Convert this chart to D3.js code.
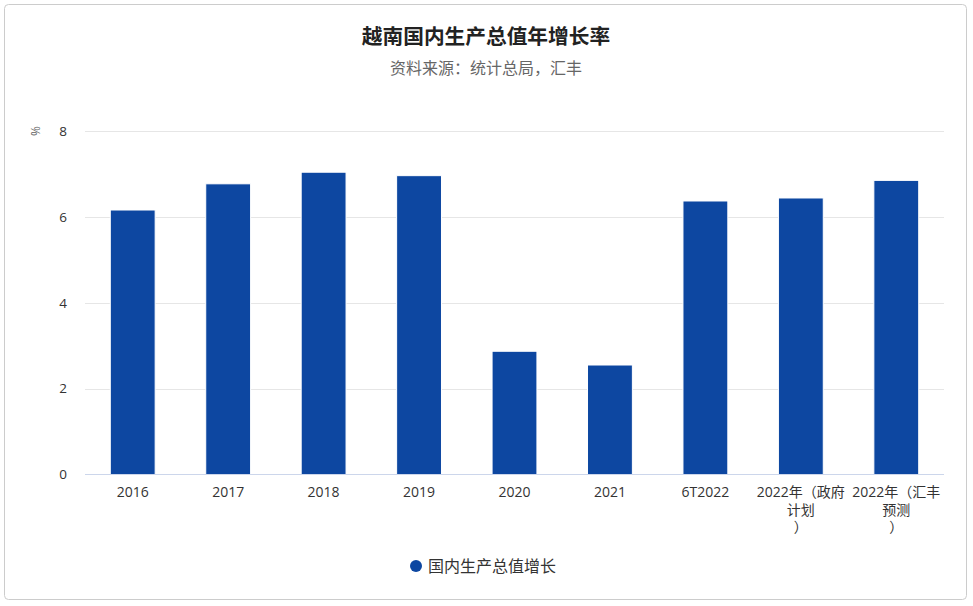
<!DOCTYPE html>
<html><head><meta charset="utf-8">
<script src="https://cdn.jsdelivr.net/npm/d3@7"></script>
<style>
html,body{margin:0;padding:0;background:#fff;}
svg{display:block;font-family:"Open Sans","Noto Sans CJK SC",sans-serif;}
</style></head>
<body>
<svg id="c" width="973" height="606"></svg>
<script>
const categories = ["2016","2017","2018","2019","2020","2021","6T2022","2022年（政府计划）","2022年（汇丰预测）"];
const labelLines = [["2016"],["2017"],["2018"],["2019"],["2020"],["2021"],["6T2022"],["2022年（政府","计划","）"],["2022年（汇丰","预测","）"]];
const growth = [6.16, 6.77, 7.04, 6.96, 2.87, 2.55, 6.37, 6.44, 6.85];
const yTicks = [0, 2, 4, 6, 8];
const seriesName = "国内生产总值增长";
const titleText = "越南国内生产总值年增长率";
const subtitleText = "资料来源：统计总局，汇丰";

const svg = d3.select("#c");
svg.append("rect").attr("x",4.5).attr("y",4.5).attr("width",962).attr("height",595)
  .attr("rx",4).attr("fill","#fff").attr("stroke","#cccccc");

const m = {left:85, right:944, top:131, bottom:474.5};
const x = d3.scaleBand().domain(categories).range([m.left, m.right]).paddingInner(0.53).paddingOuter(0.265);
const y = d3.scaleLinear().domain([0,8]).range([m.bottom, m.top]);

svg.append("text").attr("x",486).attr("y",44).attr("text-anchor","middle")
  .attr("font-size",20.7).attr("font-weight","bold").attr("fill","#222").text(titleText);
svg.append("text").attr("x",486).attr("y",74).attr("text-anchor","middle")
  .attr("font-size",16).attr("fill","#666").text(subtitleText);

// grid
svg.append("g").selectAll("line").data(yTicks.filter(d=>d>0)).join("line")
  .attr("x1",m.left).attr("x2",m.right)
  .attr("y1",d=>Math.round(y(d))+0.5).attr("y2",d=>Math.round(y(d))+0.5)
  .attr("stroke","#e6e6e6");

// y axis labels
const yAxis = d3.axisLeft(y).tickValues(yTicks).tickSize(0).tickPadding(0);
const ya = svg.append("g").attr("transform",`translate(${m.left-18},0)`).call(yAxis);
ya.select(".domain").remove();
ya.selectAll("text").attr("font-size",13.5).attr("fill","#333").attr("font-family","Open Sans, sans-serif");

svg.append("text").attr("transform",`translate(40,${m.top}) rotate(-90)`)
  .attr("text-anchor","middle").attr("font-size",12).attr("fill","#666").text("%");

// bars
svg.selectAll("rect.bar").data(growth).join("rect")
  .attr("x",(d,i)=>x(categories[i])).attr("width",x.bandwidth())
  .attr("y",d=>y(d)).attr("height",d=>y(0)-y(d))
  .attr("fill","#0d47a1").attr("stroke","#ffffff").attr("stroke-width",1);

// baseline
svg.append("line").attr("x1",m.left).attr("x2",m.right).attr("y1",m.bottom).attr("y2",m.bottom).attr("stroke","#ccd6eb");

// x labels
const xl = svg.append("g");
categories.forEach((c,i)=>{
  const cx = x(c)+x.bandwidth()/2;
  const t = xl.append("text").attr("x",cx).attr("y",497).attr("text-anchor","middle")
    .attr("font-size",14).attr("fill","#333");
  labelLines[i].forEach((ln,j)=>{
    t.append("tspan").attr("x",cx).attr("dy",j===0?0:17.5).text(ln);
  });
});

// legend
svg.append("circle").attr("cx",416).attr("cy",566).attr("r",6).attr("fill","#0d47a1");
svg.append("text").attr("x",428).attr("y",572).attr("font-size",16).attr("fill","#333").text(seriesName);
</script>
</body></html>
